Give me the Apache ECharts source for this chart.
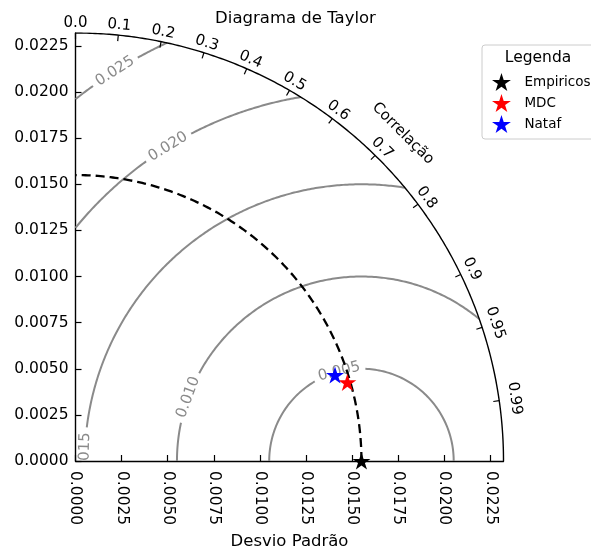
<!DOCTYPE html>
<html>
<head>
<meta charset="utf-8">
<script src="https://cdn.jsdelivr.net/npm/echarts@6/dist/echarts.min.js"></script>
<style>
  html, body { margin: 0; padding: 0; background: #ffffff; }
  #chart { width: 591px; height: 552px; }
</style>
</head>
<body>
<div id="chart"></div>
<script>
// Taylor diagram: radius = standard deviation, angle = correlation
const modelNames = ['Empiricos', 'MDC', 'Nataf'];
const modelStd = [0.0155, 0.01534, 0.01482];
const modelCorr = [1.0, 0.9606, 0.9492];
const modelColors = ['#000000', '#ff0000', '#0000ff'];

const refStd = 0.0155;   // standard deviation of the reference series
const stdMax = 0.0232;   // outer radius of the diagram
const stdTicks = [0, 0.0025, 0.005, 0.0075, 0.01, 0.0125, 0.015, 0.0175, 0.02, 0.0225];
const corrTicks = [0.0, 0.1, 0.2, 0.3, 0.4, 0.5, 0.6, 0.7, 0.8, 0.9, 0.95, 0.99];
const rmsLevels = [0.005, 0.010, 0.015, 0.020, 0.025];
const rmsLabels = ['0.005', '0.010', '0.015', '0.020', '0.025'];

// where each RMS contour label sits (angle around the reference point, degrees)
const rmsLabelAngleDeg = [104, 159.8, 178.5, 121.6, 122.3];

const FONT = '"DejaVu Sans", sans-serif';
const CONTOUR_GRAY = '#8a8a8a';

const measureCtx = document.createElement('canvas').getContext('2d');
function textWidth(s, size) {
  measureCtx.font = size + 'px "DejaVu Sans"';
  return measureCtx.measureText(s).width;
}

// five-pointed star marker
function starPath() {
  const pts = [];
  for (let k = 0; k < 10; k++) {
    const a = Math.PI / 2 + k * Math.PI / 5;
    const r = k % 2 === 0 ? 1 : 0.381966;
    pts.push((r * Math.cos(a)).toFixed(4) + ' ' + (-r * Math.sin(a)).toFixed(4));
  }
  return 'path://M' + pts.join(' L') + ' Z';
}
const STAR = starPath();

function arcPoints(radius, n) {
  const out = [];
  for (let k = 0; k <= n; k++) {
    const t = (Math.PI / 2) * k / n;
    out.push([radius * Math.cos(t), radius * Math.sin(t)]);
  }
  return out;
}

const chart = echarts.init(document.getElementById('chart'), null, { renderer: 'canvas' });

const series = [];

// RMS difference contours centred on the reference point
series.push({
  type: 'custom',
  name: 'rms',
  clip: true,
  z: 2,
  silent: true,
  data: rmsLevels.map((v, i) => [refStd, 0, i]),
  renderItem: function (params, api) {
    const i = params.dataIndex;
    const R = rmsLevels[i];
    const c = refStd;
    const o = api.coord([c, 0]);
    const Rpx = api.coord([c + R, 0])[0] - o[0];
    let phiMin = 0, phiMax = Math.PI;
    if (c + R > stdMax) {
      const xi = (c * c + stdMax * stdMax - R * R) / (2 * c);
      phiMin = Math.acos(Math.max(-1, Math.min(1, (xi - c) / R)));
    }
    if (R > c) phiMax = Math.acos(-c / R);
    const phiL = rmsLabelAngleDeg[i] * Math.PI / 180;
    const w = textWidth(rmsLabels[i], 15);
    const half = (w / 2 + 5) / Rpx;
    const seg = function (a, b) {
      const pts = [];
      const n = Math.max(2, Math.ceil((b - a) * Rpx / 2));
      for (let k = 0; k <= n; k++) {
        const p = a + (b - a) * k / n;
        pts.push(api.coord([c + R * Math.cos(p), R * Math.sin(p)]));
      }
      return { type: 'polyline', shape: { points: pts }, style: { stroke: CONTOUR_GRAY, lineWidth: 2, fill: null } };
    };
    const children = [];
    if (phiL - half > phiMin) children.push(seg(phiMin, phiL - half));
    if (phiL + half < phiMax) children.push(seg(phiL + half, phiMax));
    const lp = api.coord([c + R * Math.cos(phiL), R * Math.sin(phiL)]);
    children.push({
      type: 'text',
      x: lp[0], y: lp[1],
      rotation: phiL - Math.PI / 2,
      style: {
        text: rmsLabels[i], fontSize: 15, fontFamily: FONT, fill: CONTOUR_GRAY,
        align: 'center', verticalAlign: 'middle'
      }
    });
    return { type: 'group', children: children };
  }
});

// reference standard deviation (dashed)
series.push({
  type: 'line',
  name: 'refArc',
  data: arcPoints(refStd, 180),
  showSymbol: false,
  symbol: 'none',
  silent: true,
  z: 3,
  lineStyle: { color: '#000', width: 2.3, type: [9, 5] }
});

// outer boundary of the diagram
series.push({
  type: 'line',
  name: 'outerArc',
  data: arcPoints(stdMax, 240),
  showSymbol: false,
  symbol: 'none',
  silent: true,
  z: 3,
  lineStyle: { color: '#000', width: 1.4 }
});

// correlation ticks and labels on the outer arc
series.push({
  type: 'custom',
  name: 'corrAxis',
  silent: true,
  z: 4,
  data: corrTicks.map(r => [stdMax * r, stdMax * Math.sqrt(1 - r * r), r]),
  renderItem: function (params, api) {
    const r = api.value(2);
    const th = Math.acos(r);
    const p = api.coord([api.value(0), api.value(1)]);
    const dx = Math.cos(th), dy = -Math.sin(th);
    const off = 10 + 6 * Math.pow(r, 8);
    const label = r === 0 ? '0.0' : String(r);
    return {
      type: 'group',
      children: [
        { type: 'line', shape: { x1: p[0], y1: p[1], x2: p[0] - 6 * dx, y2: p[1] - 6 * dy },
          style: { stroke: '#000', lineWidth: 1.2 } },
        { type: 'text', x: p[0] + off * dx, y: p[1] + off * dy, rotation: th - Math.PI / 2,
          style: { text: label, fontSize: 15, fontFamily: FONT, fill: '#000', align: 'center', verticalAlign: 'middle' } }
      ]
    };
  }
});

// title of the angular axis
series.push({
  type: 'custom',
  name: 'corrTitle',
  silent: true,
  z: 4,
  data: [[stdMax * Math.cos(Math.PI / 4), stdMax * Math.sin(Math.PI / 4)]],
  renderItem: function (params, api) {
    const th = Math.PI / 4;
    const p = api.coord([api.value(0), api.value(1)]);
    const off = 35;
    return {
      type: 'text', x: p[0] + off * Math.cos(th), y: p[1] - off * Math.sin(th), rotation: th - Math.PI / 2,
      style: { text: 'Correlação', fontSize: 15, fontFamily: FONT, fill: '#000', align: 'center', verticalAlign: 'middle' }
    };
  }
});

// model points
modelNames.forEach((name, i) => {
  const s = modelStd[i], r = modelCorr[i];
  series.push({
    type: 'scatter',
    name: name,
    z: 10,
    symbol: STAR,
    symbolKeepAspect: true,
    symbolSize: 18,
    itemStyle: { color: modelColors[i], opacity: 1 },
    data: [[s * r, s * Math.sqrt(Math.max(0, 1 - r * r))]]
  });
});

const axisCommon = {
  type: 'value',
  min: 0,
  max: stdMax,
  interval: 0.0025,
  splitLine: { show: false },
  axisLine: { show: true, onZero: false, lineStyle: { color: '#000', width: 1.4 } },
  axisTick: { show: true, inside: true, length: 6, customValues: stdTicks, lineStyle: { color: '#000', width: 1.2 } },
};

chart.setOption({
  animation: false,
  backgroundColor: '#ffffff',
  title: {
    text: 'Diagrama de Taylor',
    left: 'center',
    top: 10,
    padding: 0,
    textStyle: { fontSize: 16.5, fontWeight: 'normal', color: '#000', fontFamily: FONT }
  },
  grid: { left: 75.5, top: 33, width: 428, height: 428, containLabel: false, outerBoundsMode: 'none' },
  xAxis: Object.assign({}, axisCommon, {
    name: 'Desvio Padrão',
    nameLocation: 'middle',
    nameGap: 72,
    nameTextStyle: { fontSize: 16.5, color: '#000', fontFamily: FONT },
    axisLabel: {
      rotate: -90, margin: 10, fontSize: 15.5, color: '#000', fontFamily: FONT,
      customValues: stdTicks, formatter: v => v.toFixed(4)
    }
  }),
  yAxis: Object.assign({}, axisCommon, {
    axisLabel: {
      margin: 7, fontSize: 15.5, color: '#000', fontFamily: FONT,
      customValues: stdTicks, formatter: v => v.toFixed(4)
    }
  }),
  legend: {
    data: modelNames.map(n => ({ name: n, icon: STAR, itemStyle: { opacity: 1 } })),
    orient: 'vertical',
    left: 482,
    top: 45,
    itemWidth: 36,
    itemHeight: 18,
    itemGap: 3,
    padding: [28, 14, 6, 10],
    selectedMode: false,
    backgroundColor: '#ffffff',
    borderColor: '#cccccc',
    borderWidth: 1,
    borderRadius: 3,
    textStyle: { fontSize: 13.5, color: '#000', fontFamily: FONT }
  },
  graphic: [
    {
      type: 'text', x: 538, y: 58, z: 100,
      style: { text: 'Legenda', fontSize: 15.5, fontFamily: FONT, fill: '#000', align: 'center', verticalAlign: 'middle' }
    }
  ],
  series: series
});
</script>
</body>
</html>
